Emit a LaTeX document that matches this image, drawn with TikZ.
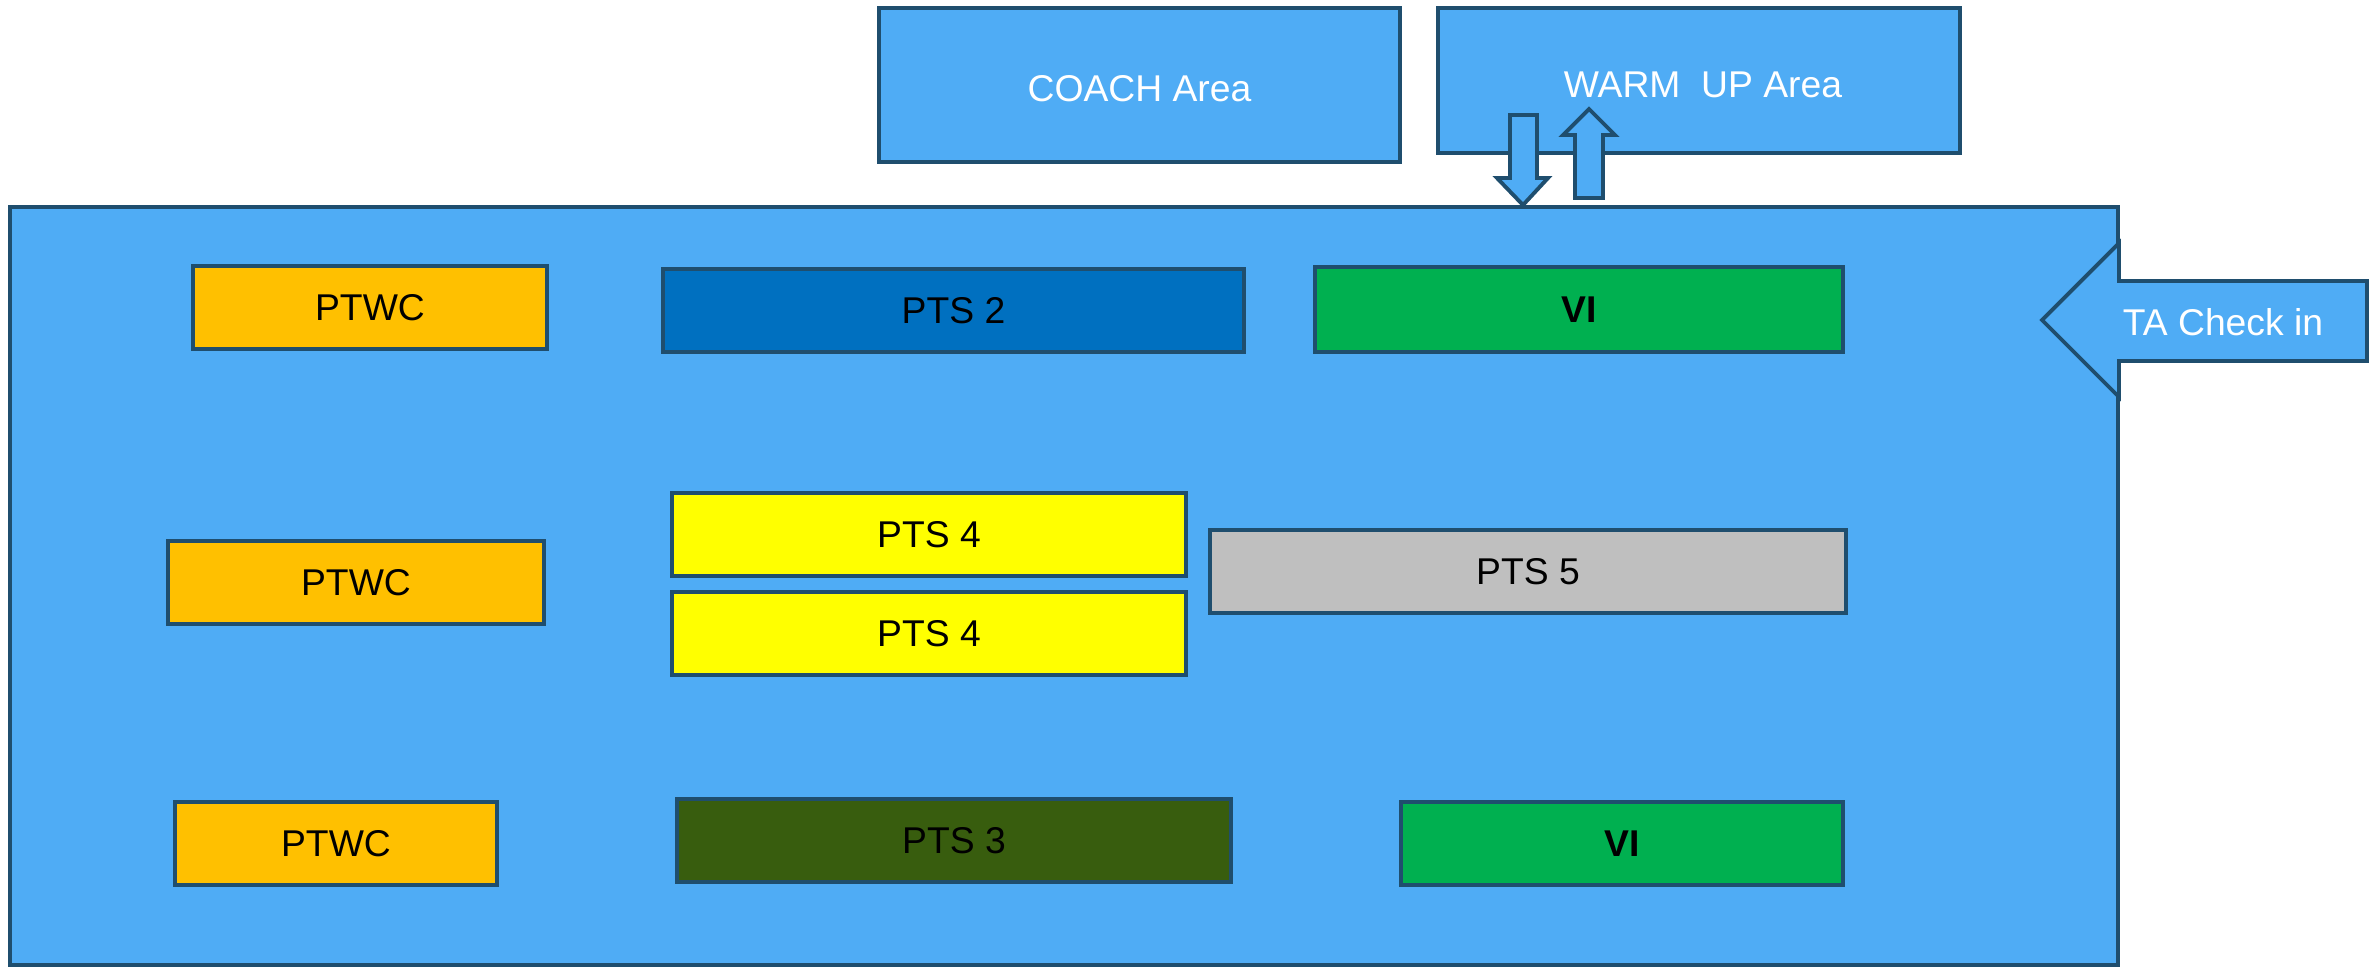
\documentclass[tikz,border=0pt]{standalone}
\usepackage{fontspec}
\setmainfont{Liberation Sans}
\definecolor{areablue}{HTML}{4FACF5}
\definecolor{edgeblue}{HTML}{1F4E6E}
\definecolor{ptwcorange}{HTML}{FFC000}
\definecolor{ptstwo}{HTML}{0070C0}
\definecolor{vigreen}{HTML}{00B050}
\definecolor{ptsfour}{HTML}{FFFF00}
\definecolor{ptsfive}{HTML}{BFBFBF}
\definecolor{ptsthree}{HTML}{385D0E}
\tikzset{
  zone/.style={draw=edgeblue, line width=1.1pt, fill=areablue, text=white,
    inner sep=0pt, font=\fontsize{10.6}{12}\selectfont},
  lane/.style={draw=edgeblue, line width=1.1pt, inner sep=0pt,
    minimum height=0.83cm, font=\fontsize{10.6}{12}\selectfont},
  blockarrow/.style={draw=edgeblue, line width=1.1pt, fill=areablue,
    line join=miter}
}
\begin{document}
\begin{tikzpicture}[x=0.01cm, y=-0.01cm]
      \useasboundingbox (0,0) rectangle (2369,966);

      % Areas (outer)
      \node[zone, minimum width=21.06cm, minimum height=7.58cm] (hall) at (1064,586) {};
      \node[zone, minimum width=5.21cm, minimum height=1.54cm] (coach) at (1139.5,85) {};
      \node[zone, minimum width=5.22cm, minimum height=1.45cm] (warmup) at (1699,80.5) {};
      \node[text=white, font=\fontsize{10.6}{12}\selectfont] (coachtext) at (1139.5,89) {COACH Area};
      \node[text=white, font=\fontsize{10.6}{12}\selectfont] (warmuptext) at (1703,85) {WARM\ \ UP Area};

      % Arrows between warm up and hall
      \draw[blockarrow] (1510,115) -- (1537,115) -- (1537,178) -- (1548,178)
        -- (1523,205) -- (1497,178) -- (1510,178) -- cycle;
      \draw[blockarrow] (1575,198) -- (1575,135) -- (1563,135) -- (1589,109)
        -- (1615,135) -- (1603,135) -- (1603,198) -- cycle;

      % Check in arrow
      \draw[blockarrow] (2367,281) -- (2119,281) -- (2119,243) -- (2042,320)
        -- (2119,397) -- (2119,361) -- (2367,361) -- cycle;
      \node[text=white, font=\fontsize{10.6}{12}\selectfont] (checkin) at (2223,322) {TA Check in};

      % Lanes (top row)
      \node[lane, fill=ptwcorange, minimum width=3.54cm] (ptwcA) at (370,307.5) {PTWC};
      \node[lane, fill=ptstwo, minimum width=5.81cm] (ptsB) at (953.5,310.5) {PTS 2};
      \node[lane, fill=vigreen, minimum width=5.28cm, minimum height=0.85cm,
        font=\fontsize{10.6}{12}\selectfont\bfseries] (viA) at (1579,309.5) {VI};

      % Lanes (middle row)
      \node[lane, fill=ptwcorange, minimum width=3.76cm] (ptwcB) at (356,582.5) {PTWC};
      \node[lane, fill=ptsfour, minimum width=5.14cm] (ptsD) at (929,534.5) {PTS 4};
      \node[lane, fill=ptsfour, minimum width=5.14cm] (ptsE) at (929,633.5) {PTS 4};
      \node[lane, fill=ptsfive, minimum width=6.36cm] (ptsF) at (1528,571.5) {PTS 5};

      % Lanes (bottom row)
      \node[lane, fill=ptwcorange, minimum width=3.22cm] (ptwcC) at (336,843.5) {PTWC};
      \node[lane, fill=ptsthree, minimum width=5.54cm] (ptsC) at (954,840.5) {PTS 3};
      \node[lane, fill=vigreen, minimum width=4.42cm,
        font=\fontsize{10.6}{12}\selectfont\bfseries] (viB) at (1622,843.5) {VI};
    \end{tikzpicture}
\end{document}
